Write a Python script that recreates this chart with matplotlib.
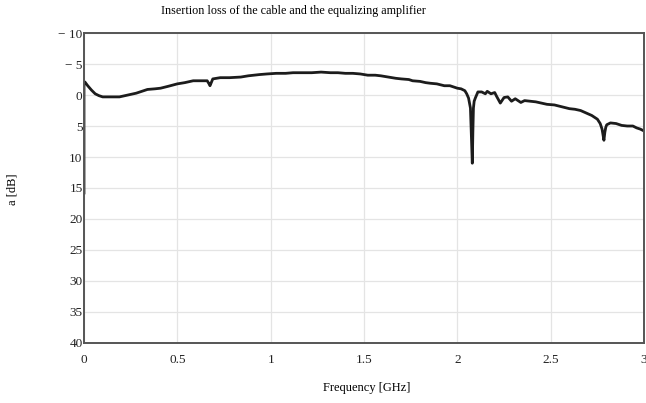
import numpy as np
import matplotlib
matplotlib.use("Agg")
import matplotlib.pyplot as plt

plt.rcParams["font.family"] = ["Liberation Serif", "DejaVu Serif"]

# hand-read trace of the measured insertion loss (dB), frequency in GHz
freq = [0.0, 0.0, 0.005, 0.02, 0.04, 0.06, 0.08, 0.10, 0.13, 0.16, 0.19, 0.22, 0.25, 0.28,
        0.31, 0.34, 0.38, 0.41, 0.45, 0.50, 0.54, 0.585, 0.62, 0.66, 0.67, 0.675, 0.69,
        0.73, 0.78, 0.84, 0.88, 0.94, 0.98, 1.03, 1.08, 1.12, 1.18, 1.22, 1.27, 1.32,
        1.36, 1.40, 1.44, 1.48, 1.52, 1.56, 1.59, 1.63, 1.67, 1.70, 1.74, 1.76, 1.80,
        1.83, 1.855, 1.89, 1.93, 1.96, 2.00, 2.02, 2.04, 2.05, 2.06, 2.07, 2.075, 2.08,
        2.083, 2.086, 2.09, 2.096, 2.11, 2.13, 2.15, 2.16, 2.18, 2.20, 2.21, 2.23, 2.25,
        2.27, 2.29, 2.31, 2.34, 2.36, 2.39, 2.42, 2.45, 2.48, 2.52, 2.56, 2.60, 2.63,
        2.66, 2.69, 2.72, 2.75, 2.765, 2.775, 2.785, 2.79, 2.795, 2.80, 2.82, 2.85,
        2.88, 2.91, 2.94, 2.96, 2.98, 3.0]
loss = [15.8, -2.1, -2.1, -1.5, -0.8, -0.2, 0.1, 0.3, 0.3, 0.3, 0.3, 0.1, -0.1, -0.3,
        -0.6, -0.9, -1.0, -1.1, -1.4, -1.8, -2.0, -2.3, -2.3, -2.3, -1.8, -1.5, -2.6,
        -2.8, -2.8, -2.9, -3.1, -3.3, -3.4, -3.5, -3.5, -3.6, -3.6, -3.6, -3.7, -3.6,
        -3.6, -3.5, -3.5, -3.4, -3.2, -3.2, -3.1, -2.9, -2.7, -2.6, -2.5, -2.3, -2.2,
        -2.0, -1.9, -1.8, -1.5, -1.5, -1.1, -1.0, -0.7, -0.2, 0.5, 2.1, 6.5, 11.0,
        6.0, 2.1, 1.0, 0.5, -0.5, -0.5, -0.2, -0.6, -0.2, -0.4, 0.2, 1.3, 0.4,
        0.3, 1.0, 0.6, 1.2, 0.9, 1.0, 1.1, 1.3, 1.5, 1.6, 1.9, 2.2, 2.3,
        2.5, 2.9, 3.3, 3.9, 4.6, 5.5, 7.3, 6.0, 5.2, 4.8, 4.5, 4.6,
        4.9, 5.0, 5.0, 5.3, 5.5, 5.8]

yticks = [-10, -5, 0, 5, 10, 15, 20, 25, 30, 35, 40]
ytick_labels = ["\u2212 10", "\u2212 5", "0", "5", "10", "15", "20", "25", "30", "35", "40"]
xticks = [0, 0.5, 1, 1.5, 2, 2.5, 3]
xtick_labels = ["0", "0.5", "1", "1.5", "2", "2.5", "3"]

fig = plt.figure(figsize=(6.46, 4.03), dpi=100)
ax = fig.add_axes([0.130, 0.149, 0.867, 0.769])

ax.plot(freq, loss, color="#1c1c1c", lw=2.0, solid_joinstyle="round")

ax.set_xlim(0, 3)
ax.set_ylim(40, -10)
ax.set_xticks(xticks)
ax.set_xticklabels(xtick_labels)
ax.set_yticks(yticks)
ax.set_yticklabels(ytick_labels)
ax.tick_params(axis="both", length=0, labelsize=9.5, colors="#222222")
ax.tick_params(axis="x", pad=8)
ax.tick_params(axis="y", pad=1)
ax.grid(True, color="#e4e4e4", lw=0.9)
ax.set_axisbelow(True)
for s in ax.spines.values():
    s.set_color("#555555")
    s.set_linewidth(1.4)

fig.text(0.455, 0.988, "Insertion loss of the cable and the equalizing amplifier",
         fontsize=8.7, ha="center", va="top")
fig.text(0.567, 0.022, "Frequency [GHz]", fontsize=9, ha="center", va="bottom")
fig.text(0.019, 0.53, "a [dB]", fontsize=9, rotation=90, ha="center", va="center")

fig.savefig("out.png", dpi=100)
